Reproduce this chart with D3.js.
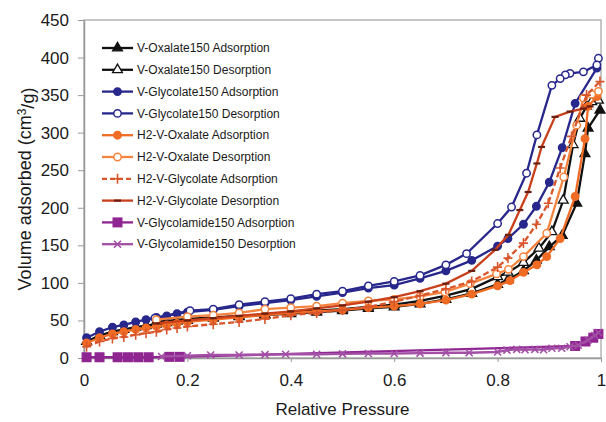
<!DOCTYPE html>
<html>
<head>
<meta charset="utf-8">
<script src="https://cdnjs.cloudflare.com/ajax/libs/d3/7.8.5/d3.min.js"></script>
<style>
	body { margin: 0; background: #fff; }
	svg text { font-family: 'Liberation Sans', Arial, sans-serif; fill: #1a1a1a; }
</style>
</head>
<body>
<div id="chart"></div>
<script>
// Isotherm data: [relative pressure, volume adsorbed]
const vOxalateAds = [[0.005,22],[0.03,30],[0.055,35],[0.077,38],[0.1,41],[0.12,43],[0.14,45],[0.16,47],[0.18,49],[0.2,50],[0.25,53],[0.3,55],[0.35,57],[0.4,59],[0.45,61],[0.5,63],[0.55,66],[0.6,68],[0.65,72],[0.7,78],[0.75,86],[0.8,98],[0.82,104],[0.85,116],[0.875,130],[0.9,148],[0.925,163],[0.953,206],[0.969,272],[0.975,306],[0.998,330]];
const vOxalateDes = [[0.995,343],[0.982,341],[0.972,335],[0.959,319],[0.946,284],[0.927,210],[0.905,168],[0.88,146],[0.85,127],[0.82,114],[0.8,108],[0.75,92],[0.7,83],[0.65,76],[0.6,71],[0.55,68],[0.5,65],[0.45,63],[0.4,61],[0.35,58],[0.3,56],[0.25,54],[0.2,52],[0.14,48]];
const vGlycolateAds = [[0.005,27],[0.03,35],[0.055,41],[0.077,44],[0.1,48],[0.12,51],[0.14,54],[0.16,56],[0.18,59],[0.2,61],[0.25,64],[0.3,69],[0.35,73],[0.4,77],[0.45,82],[0.5,87],[0.55,93],[0.6,97],[0.65,106],[0.7,116],[0.75,130],[0.8,149],[0.82,159],[0.85,178],[0.875,202],[0.9,234],[0.925,280],[0.95,339],[0.992,386]];
const vGlycolateDes = [[0.995,399],[0.992,390],[0.966,381],[0.94,379],[0.931,377],[0.921,372],[0.905,363],[0.876,297],[0.856,246],[0.827,201],[0.8,179],[0.74,139],[0.7,124],[0.65,110],[0.6,102],[0.55,96],[0.5,89],[0.45,85],[0.4,79],[0.35,75],[0.3,71],[0.25,65],[0.205,63],[0.137,53]];
const h2OxalateAds = [[0.005,20],[0.03,27],[0.055,32],[0.077,35],[0.1,38],[0.12,40],[0.14,42],[0.16,44],[0.18,46],[0.2,48],[0.25,51],[0.3,54],[0.35,57],[0.4,60],[0.45,62],[0.5,64],[0.55,67],[0.6,69],[0.65,72],[0.7,77],[0.75,85],[0.8,96],[0.824,103],[0.85,114],[0.876,124],[0.895,135],[0.921,159],[0.95,215],[0.969,292],[0.975,335],[0.992,348]];
const h2OxalateDes = [[0.995,355],[0.982,351],[0.966,346],[0.953,310],[0.928,241],[0.895,166],[0.85,135],[0.821,118],[0.798,112],[0.747,99],[0.698,88],[0.65,82],[0.6,78],[0.55,76],[0.5,73],[0.45,69],[0.4,67],[0.35,65],[0.3,60],[0.25,57],[0.2,55],[0.14,51]];
const h2GlycolateAds = [[0.005,15],[0.03,22],[0.055,26],[0.077,28],[0.1,31],[0.12,33],[0.14,35],[0.16,38],[0.18,40],[0.2,42],[0.25,45],[0.3,48],[0.35,52],[0.4,57],[0.45,60],[0.5,64],[0.55,68],[0.6,75],[0.65,83],[0.7,92],[0.75,102],[0.8,121],[0.82,133],[0.85,153],[0.875,178],[0.898,206],[0.921,253],[0.943,295],[0.972,350],[0.998,368]];
const h2GlycolateDes = [[0.979,335],[0.966,332],[0.94,328],[0.911,321],[0.885,281],[0.876,259],[0.859,221],[0.843,197],[0.821,164],[0.795,144],[0.75,116],[0.7,99],[0.65,89],[0.6,81],[0.55,75],[0.5,70],[0.45,66],[0.4,62],[0.35,59],[0.3,56],[0.25,53],[0.2,50],[0.14,46]];
const vGlycolamideAds = [[0.005,1],[0.03,1],[0.065,1],[0.085,1],[0.105,1],[0.125,1],[0.165,1.5],[0.185,1.5],[0.95,16],[0.97,22],[0.985,27],[0.995,32]];
const vGlycolamideDes = [[0.995,34],[0.988,30],[0.975,24],[0.956,17],[0.94,15],[0.924,13],[0.905,13],[0.889,11],[0.872,11.5],[0.853,11],[0.837,11.5],[0.818,10.5],[0.8,8],[0.745,7],[0.7,7],[0.65,6.5],[0.6,6],[0.55,6],[0.5,5.5],[0.45,5],[0.39,5],[0.35,4.5],[0.3,4],[0.245,4],[0.2,3],[0.15,2]];

const seriesNames = [
	'V-Oxalate150 Adsorption', 'V-Oxalate150 Desorption',
	'V-Glycolate150 Adsorption', 'V-Glycolate150 Desorption',
	'H2-V-Oxalate Adsorption', 'H2-V-Oxalate Desorption',
	'H2-V-Glycolate Adsorption', 'H2-V-Glycolate Desorption',
	'V-Glycolamide150 Adsorption', 'V-Glycolamide150 Desorption'
];
const xTicks = [0, 0.2, 0.4, 0.6, 0.8, 1];
const yTicks = [0, 50, 100, 150, 200, 250, 300, 350, 400, 450];

// Styles per series (same order as names)
const series = [
	{ data: vOxalateAds, color: '#111', marker: 'triangle' },
	{ data: vOxalateDes, color: '#111', marker: 'triangleOpen' },
	{ data: vGlycolateAds, color: '#27278c', marker: 'circle' },
	{ data: vGlycolateDes, color: '#27278c', marker: 'circleOpen' },
	{ data: h2OxalateAds, color: '#f06b24', marker: 'circle' },
	{ data: h2OxalateDes, color: '#f5843f', marker: 'circleOpen' },
	{ data: h2GlycolateAds, color: '#d9562b', marker: 'plus', dash: '6,3' },
	{ data: h2GlycolateDes, color: '#c9401c', marker: 'dash' },
	{ data: vGlycolamideAds, color: '#8f2591', marker: 'square' },
	{ data: vGlycolamideDes, color: '#a34fa6', marker: 'x' }
].map((s, i) => Object.assign(s, { name: seriesNames[i] }));

const width = 606;
const height = 422;
const plot = { left: 84, right: 601, top: 20, bottom: 358 };

const x = d3.scaleLinear().domain([0, 1]).range([plot.left, plot.right]);
const y = d3.scaleLinear().domain([0, 450]).range([plot.bottom, plot.top]);

const svg = d3
	.select('#chart')
	.append('svg')
	.attr('width', width)
	.attr('height', height);

// Plot frame
svg.append('rect')
	.attr('x', plot.left)
	.attr('y', plot.top)
	.attr('width', plot.right - plot.left)
	.attr('height', plot.bottom - plot.top)
	.attr('fill', 'none')
	.attr('stroke', '#b4b4b4')
	.attr('stroke-width', 1.5);

// Axes
const yAxis = svg.append('g')
	.attr('transform', `translate(${plot.left},0)`)
	.call(d3.axisLeft(y).tickValues(yTicks).tickSize(6).tickPadding(9).tickSizeOuter(0));
const xAxis = svg.append('g')
	.attr('transform', `translate(0,${plot.bottom})`)
	.call(d3.axisBottom(x).tickValues(xTicks).tickSize(4).tickPadding(12).tickSizeOuter(0).tickFormat((d) => String(d)));

[xAxis, yAxis].forEach((a) => {
	a.select('.domain').attr('stroke', '#999').attr('stroke-width', 1.5);
	a.selectAll('.tick line').attr('stroke', '#999');
	a.selectAll('text').style('font-size', '17px').attr('fill', '#1a1a1a');
});

// Marker drawing helper
function drawMarker(g, type, color) {
	if (type === 'triangle' || type === 'triangleOpen') {
		g.append('path')
			.attr('d', d3.symbol(d3.symbolTriangle, 42)())
			.attr('fill', type === 'triangle' ? color : '#fff')
			.attr('stroke', color)
			.attr('stroke-width', 1.3);
	} else if (type === 'circle' || type === 'circleOpen') {
		g.append('circle')
			.attr('r', 3.7)
			.attr('fill', type === 'circle' ? color : '#fff')
			.attr('stroke', color)
			.attr('stroke-width', 1.5);
	} else if (type === 'plus') {
		g.append('path')
			.attr('d', 'M-4.5,0H4.5M0,-5V5')
			.attr('stroke', color)
			.attr('stroke-width', 1.6);
	} else if (type === 'dash') {
		g.append('path')
			.attr('d', 'M-3.5,0H3.5')
			.attr('stroke', '#6a2010')
			.attr('stroke-width', 2.2);
	} else if (type === 'square') {
		g.append('rect')
			.attr('x', -5)
			.attr('y', -5)
			.attr('width', 10)
			.attr('height', 10)
			.attr('fill', color);
	} else if (type === 'x') {
		g.append('path')
			.attr('d', 'M-3.5,-3.5L3.5,3.5M3.5,-3.5L-3.5,3.5')
			.attr('stroke', color)
			.attr('stroke-width', 1.6);
	}
}

const line = d3.line()
	.x((d) => x(d[0]))
	.y((d) => y(d[1]));

// Series: lines then markers, later series on top
series.forEach((s) => {
	const g = svg.append('g');
	g.append('path')
		.datum(s.data)
		.attr('d', line)
		.attr('fill', 'none')
		.attr('stroke', s.color)
		.attr('stroke-width', 2.3)
		.attr('stroke-dasharray', s.dash || null);
	g.selectAll('g.pt')
		.data(s.data)
		.enter()
		.append('g')
		.attr('class', 'pt')
		.attr('transform', (d) => `translate(${x(d[0])},${y(d[1])})`)
		.each(function () {
			drawMarker(d3.select(this), s.marker, s.color);
		});
});

// Legend
const legend = svg.append('g');
series.forEach((s, i) => {
	const ly = 48 + i * 21.8;
	const row = legend.append('g').attr('transform', `translate(102,${ly})`);
	row.append('line')
		.attr('x1', 0)
		.attr('x2', 31)
		.attr('stroke', s.color)
		.attr('stroke-width', 2.3)
		.attr('stroke-dasharray', s.dash ? '5,3' : null);
	drawMarker(row.append('g').attr('transform', 'translate(15.5,0)'), s.marker, s.color);
	row.append('text')
		.attr('x', 35)
		.attr('dy', '0.35em')
		.style('font-size', '12px')
		.text(s.name);
});

// Axis titles
svg.append('text')
	.attr('x', (plot.left + plot.right) / 2)
	.attr('y', 415)
	.attr('text-anchor', 'middle')
	.style('font-size', '17px')
	.text('Relative Pressure');

const yTitle = svg.append('text')
	.attr('transform', `translate(31,${(plot.top + plot.bottom) / 2}) rotate(-90)`)
	.attr('text-anchor', 'middle')
	.style('font-size', '18px');
yTitle.append('tspan').text('Volume adsorbed (cm');
yTitle.append('tspan').attr('dy', '-0.45em').style('font-size', '12px').text('3');
yTitle.append('tspan').attr('dy', '0.45em').text('/g)');
</script>
</body>
</html>
